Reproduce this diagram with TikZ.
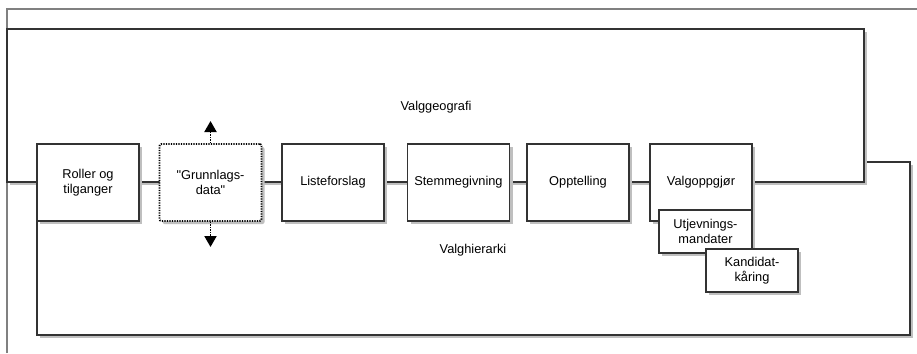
\documentclass[tikz,border=0pt]{standalone}
\usepackage{fontspec}
\newfontfamily\diagfont{Liberation Sans}
\usetikzlibrary{arrows.meta,shadows}
\begin{document}
\begin{tikzpicture}[x=1pt,y=-1pt,
  line/.style={draw=black!80, line width=1.6pt},
  shade/.style={drop shadow={shadow xshift=3pt, shadow yshift=-3pt, fill=black!25, opacity=1}},
  container/.style={line, shade, fill=white, rectangle, inner sep=0pt},
  proc/.style={line, shade, fill=white, rectangle, inner sep=0pt, minimum width=102pt, minimum height=77pt, align=center, font=\diagfont\fontsize{12.8}{14.5}\selectfont},
  dotbox/.style={proc, draw=black, line width=1.9pt, dash pattern=on 1.2pt off 1.3pt, rounded corners=2pt},
  sub/.style={proc, minimum width=93pt, minimum height=43pt},
  lbl/.style={font=\diagfont\fontsize{12.8}{14.5}\selectfont, inner sep=0pt},
  frameline/.style={draw=black!50, line width=1.4pt},
  dotarrow/.style={draw=black, line width=1.9pt, dash pattern=on 1.2pt off 1.3pt, -{Triangle[width=12pt,length=11pt]}}
]
\useasboundingbox (0,0) rectangle (917,353);
% outer frame
\coordinate (fbl) at (7,353);
\coordinate (ftl) at (7,9);
\coordinate (ftr) at (917,9);
\draw[frameline] (fbl) -- (ftl) -- (ftr);
% containers
\node[container, minimum width=873pt, minimum height=173pt] (hier) at (473.5,248.5) {};
\node[container, minimum width=857pt, minimum height=153pt] (geo) at (435.5,105.5) {};
\node[lbl] (geolbl) at (436,107) {Valggeografi};
\node[lbl] (hierlbl) at (473,250) {Valghierarki};
% process boxes
\node[proc] (roller) at (88,182.5) {Roller og\\tilganger};
\node[dotbox] (grunn) at (210.5,182.5) {"Grunnlags-\\data"};
\node[proc] (liste) at (333,182.5) {Listeforslag};
\node[proc] (stemme) at (458.5,182.5) {Stemmegivning};
\node[proc] (opp) at (578,182.5) {Opptelling};
\node[proc] (valg) at (701,182.5) {Valgoppgjør};
\node[sub] (utj) at (705.5,231.5) {Utjevnings-\\mandater};
\node[sub, minimum width=92pt] (kand) at (752,270.5) {Kandidat-\\kåring};
% arrows from Grunnlagsdata
\coordinate (up) at (210.5,121);
\coordinate (down) at (210.5,247);
\draw[dotarrow] (grunn.north) -- (up);
\draw[dotarrow] (grunn.south) -- (down);
\end{tikzpicture}
\end{document}
